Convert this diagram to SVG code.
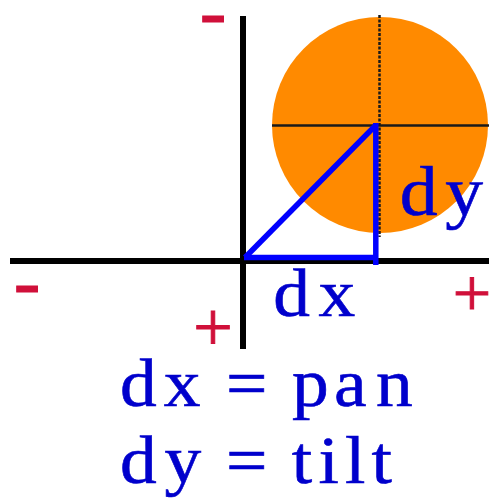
<svg xmlns="http://www.w3.org/2000/svg" width="489" height="499" viewBox="0 0 489 499">
<style>
.axis{stroke:#000;stroke-width:6;fill:none}
.tri{stroke:#0000FF;stroke-width:5.5;fill:none}
.lbl{font-family:"Liberation Serif","Times New Roman",serif;fill:#0000CC;stroke:#0000CC;stroke-width:0.6}
.sign{font-family:"Liberation Serif","Times New Roman",serif;fill:#D0103A;stroke:#D0103A;stroke-width:1;text-anchor:middle}
</style>
<rect width="489" height="499" fill="#fff"/>
<g id="target">
<circle cx="380" cy="125" r="108" fill="#FF8A00"/>
<line x1="272" y1="125.5" x2="489" y2="125.5" stroke="#1a1a1a" stroke-width="2.5"/>
<line x1="379.5" y1="15" x2="379.5" y2="237" stroke="#1a1a1a" stroke-width="2.5" stroke-dasharray="3 1.5"/>
</g>
<g id="axes">
<line class="axis" x1="243" y1="16" x2="243" y2="349"/>
<line class="axis" x1="10" y1="261" x2="489" y2="261"/>
</g>
<g id="triangle">
<line class="tri" x1="245" y1="257.5" x2="376" y2="125"/>
<line class="tri" x1="375.8" y1="123" x2="375.8" y2="265"/>
<line class="tri" x1="244" y1="257.5" x2="378" y2="257.5"/>
</g>
<g id="signs">
<text class="sign" x="213" y="38" font-size="80">-</text>
<text class="sign" x="27" y="308" font-size="80">-</text>
<text class="sign" x="213" y="351" font-size="70">+</text>
<text class="sign" x="472" y="315.5" font-size="68">+</text>
</g>
<g id="labels">
<text class="lbl" transform="matrix(1.08 0 0 1 -21.856 0)" x="273.2" y="316" font-size="68" letter-spacing="8">dx</text>
<text class="lbl" transform="matrix(1.08 0 0 1 -31.984 0)" x="399.8" y="215" font-size="70" letter-spacing="7">dy</text>
<text class="lbl" transform="matrix(1.08 0 0 1 -9.592 0)" font-size="68" x="119.9 160.6 230 218.1 250 279.3 318.1 357" y="406">dx = pan</text>
<text class="lbl" transform="matrix(1.08 0 0 1 -9.592 0)" font-size="68" x="119.9 161.2 230 218.1 250 279.1 303.7 328.3 352.9" y="483">dy = tilt</text>
</g>
</svg>
